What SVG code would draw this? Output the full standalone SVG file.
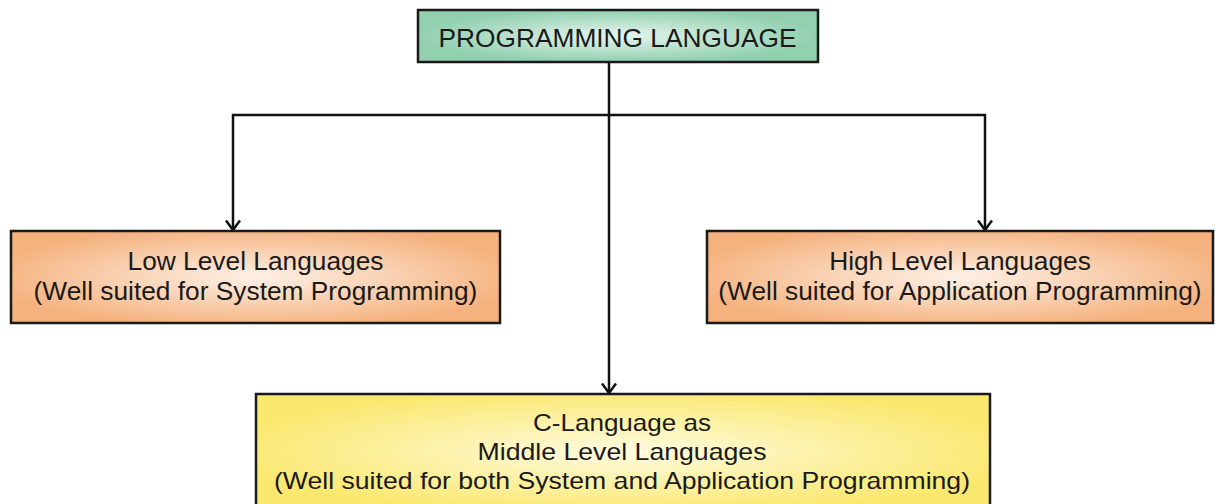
<svg xmlns="http://www.w3.org/2000/svg" width="1215" height="504" viewBox="0 0 1215 504">
<style>
.box{stroke:#1a1a1a;stroke-width:2.5}
.t{font-family:"Liberation Sans",Arial,sans-serif;font-size:26.3px;fill:#1a1a1a;text-anchor:middle}
.tn{font-family:"Liberation Sans",Arial,sans-serif;font-size:24px;fill:#1a1a1a;text-anchor:middle}
.c{fill:none;stroke:#111;stroke-width:2.5}
</style>
<defs>
<radialGradient id="gGreen" cx="50%" cy="50%" r="50%">
<stop offset="0" stop-color="#e6f5ee"/>
<stop offset="1" stop-color="#92d0b0"/>
</radialGradient>
<radialGradient id="gOrange" cx="50%" cy="50%" r="55%">
<stop offset="0" stop-color="#fdf0e6"/>
<stop offset="1" stop-color="#f5b27e"/>
</radialGradient>
<radialGradient id="gYellow" cx="50%" cy="50%" r="55%">
<stop offset="0" stop-color="#fefbe0"/>
<stop offset="1" stop-color="#fae86e"/>
</radialGradient>
<marker id="arr" viewBox="0 0 12 16" refX="10.5" refY="8" markerWidth="12" markerHeight="16" markerUnits="userSpaceOnUse" orient="auto">
<polyline points="1,1 10.5,8 1,15" fill="none" stroke="#111" stroke-width="2.5"/>
</marker>
</defs>
<g id="connectors">
<path class="c" d="M609 62 V115 H233 V230" marker-end="url(#arr)"/>
<path class="c" d="M609 115 H985 V230" marker-end="url(#arr)"/>
<path class="c" d="M609 115 V393" marker-end="url(#arr)"/>
</g>
<g id="node-programming">
<rect class="box" x="418" y="10" width="400" height="52" fill="url(#gGreen)"/>
<text class="t" x="617.5" y="47">PROGRAMMING LANGUAGE</text>
</g>
<g id="node-low">
<rect class="box" x="11" y="231" width="489" height="92" fill="url(#gOrange)"/>
<text class="t" x="255.5" y="270">Low Level Languages</text>
<text class="t" x="255.5" y="300">(Well suited for System Programming)</text>
</g>
<g id="node-high">
<rect class="box" x="707" y="231" width="506" height="92" fill="url(#gOrange)"/>
<text class="t" x="960" y="270">High Level Languages</text>
<text class="t" x="960" y="300">(Well suited for Application Programming)</text>
</g>
<g id="node-middle">
<rect class="box" x="256" y="394" width="734" height="115" fill="url(#gYellow)"/>
<text class="tn" x="622" y="431" textLength="178" lengthAdjust="spacingAndGlyphs">C-Language as</text>
<text class="tn" x="622" y="460" textLength="289" lengthAdjust="spacingAndGlyphs">Middle Level Languages</text>
<text class="tn" x="622" y="489" textLength="696" lengthAdjust="spacingAndGlyphs">(Well suited for both System and Application Programming)</text>
</g>
</svg>
